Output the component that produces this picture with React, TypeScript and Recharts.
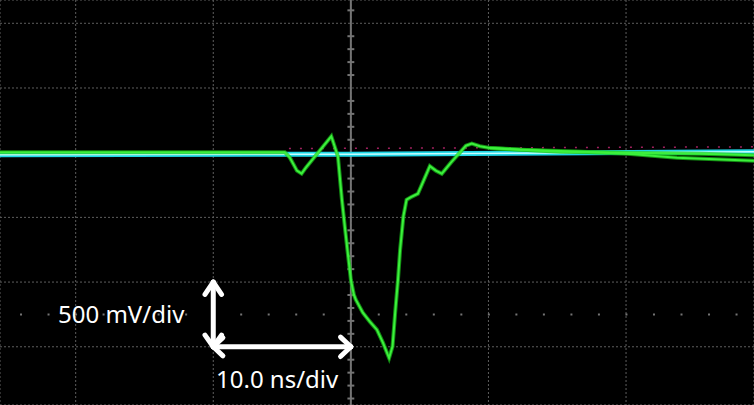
import { CartesianGrid, Line, LineChart, ReferenceLine, XAxis, YAxis } from 'recharts';

const W = 754;
const H = 405;

// scope screen: x in ns (10 ns/div), y in mV (500 mV/div)
const X_DOMAIN = [-25.5, 29.3];
const Y_DOMAIN = [-1950, 1180];
const X_GRID = [-20, -10, 0, 10, 20];
const Y_GRID = [1000, 500, 0, -500, -1000, -1500];
const CENTER_TICKS = [
  1100, 900, 800, 700, 600, 400, 300, 200, 100, -100, -200, -300, -400, -600, -700, -800, -900,
  -1100, -1200, -1300, -1400, -1600, -1700, -1800, -1900,
];

// green trace (main acquisition)
const greenT = [
  -25.5, -4.8, -4.43, -3.92, -3.58, -3.27, -1.42, -0.94, -0.65, -0.44, -0.25, 0, 0.22, 0.36, 0.87,
  1.38, 1.89, 2.33, 2.78, 3.03, 3.22, 3.42, 3.58, 3.82, 4.05, 4.36, 4.87, 5.16, 5.74, 6.18, 6.61,
  7.27, 7.92, 8.36, 8.79, 9.38, 10.1, 12.3, 16.4, 20.1, 23.7, 29.3,
];
const greenV = [
  4, 4, -39, -139, -162, -116, 127, -29, -363, -570, -750, -981, -1097, -1136, -1236, -1306, -1368,
  -1468, -1587, -1497, -1236, -989, -750, -491, -363, -344, -317, -247, -104, -139, -162, -77, 0,
  54, 70, 50, 36, 23, 10, -8, -39, -62,
];

// second green sweep, splits off on the tail
const green2T = [10.1, 15.2, 20.1, 25.4, 29.3];
const green2V = [36, 8, 0, -8, -19];

// cyan reference channel
const cyanT = [-25.5, 0, 29.3];
const cyanV = [-15, -12, 8];

// faint magenta speckle just above the cyan trace
const speckT = [-4.5, 29.3];
const speckV = [32, 45];

const zip = (t: number[], v: number[]) => t.map((x, i) => ({ t: x, v: v[i] }));

const GRID = '#5e5e5e';
const AXIS = '#747474';
const ARROW = '#ffffff';

export default function App() {
  const green = zip(greenT, greenV);
  const green2 = zip(green2T, green2V);
  const cyan = zip(cyanT, cyanV);
  const speck = zip(speckT, speckV);
  const arrow = { stroke: ARROW, strokeWidth: 5, strokeLinecap: 'round' as const, ifOverflow: 'visible' as const };
  const plain = { dot: false, activeDot: false, isAnimationActive: false, type: 'linear' as const };

  return (
    <div style={{ position: 'absolute', left: 0, top: 0, width: W, height: H, background: '#000' }}>
      <LineChart width={W} height={H} margin={{ top: 0, right: 0, bottom: 0, left: 0 }}>
        <XAxis dataKey="t" type="number" domain={X_DOMAIN} ticks={X_GRID} allowDataOverflow hide />
        <YAxis dataKey="v" type="number" domain={Y_DOMAIN} ticks={Y_GRID} allowDataOverflow hide />
        <CartesianGrid stroke={GRID} strokeDasharray="2 2" />
        <ReferenceLine y={-1250} stroke={AXIS} strokeWidth={2} strokeDasharray="2 25.52" strokeDashoffset={7.5} />
        <ReferenceLine x={0} stroke={AXIS} strokeWidth={2} />
        {CENTER_TICKS.map((y) => (
          <ReferenceLine
            key={y}
            segment={[
              { x: -0.25, y },
              { x: 0.25, y },
            ]}
            stroke={AXIS}
            strokeWidth={2}
          />
        ))}

        <Line data={speck} dataKey="v" stroke="#a0205e" strokeWidth={1.5} strokeDasharray="2 9" {...plain} />
        <Line data={cyan} dataKey="v" stroke="#1ed6e6" strokeWidth={5} {...plain} />
        <Line data={cyan} dataKey="v" stroke="#c8ffff" strokeWidth={1.5} {...plain} />
        <Line data={green2} dataKey="v" stroke="#1bc81b" strokeWidth={4} strokeOpacity={0.7} {...plain} />
        <Line data={green} dataKey="v" stroke="#1bc81b" strokeWidth={4} strokeOpacity={0.7} {...plain} />
        <Line data={green2} dataKey="v" stroke="#3cf03c" strokeWidth={2} {...plain} />
        <Line data={green} dataKey="v" stroke="#3cf03c" strokeWidth={2} {...plain} />

        {/* scale arrows: one division each way */}
        <ReferenceLine segment={[{ x: -10, y: -1500 }, { x: -10, y: -1000 }]} {...arrow} />
        <ReferenceLine segment={[{ x: -10.6, y: -1095 }, { x: -10, y: -1000 }]} {...arrow} />
        <ReferenceLine segment={[{ x: -9.4, y: -1095 }, { x: -10, y: -1000 }]} {...arrow} />
        <ReferenceLine segment={[{ x: -10.6, y: -1410 }, { x: -10, y: -1500 }]} {...arrow} />
        <ReferenceLine segment={[{ x: -9.4, y: -1410 }, { x: -10, y: -1500 }]} {...arrow} />
        <ReferenceLine segment={[{ x: -10, y: -1500 }, { x: 0, y: -1500 }]} {...arrow} />
        <ReferenceLine segment={[{ x: -0.75, y: -1425 }, { x: 0, y: -1500 }]} {...arrow} />
        <ReferenceLine segment={[{ x: -0.75, y: -1575 }, { x: 0, y: -1500 }]} {...arrow} />
        <ReferenceLine segment={[{ x: -9.3, y: -1430 }, { x: -10, y: -1500 }]} {...arrow} />
        <ReferenceLine segment={[{ x: -9.3, y: -1570 }, { x: -10, y: -1500 }]} {...arrow} />
      </LineChart>
      <svg width={W} height={H} style={{ position: 'absolute', left: 0, top: 0, pointerEvents: 'none' }}>
        <g fontFamily="'Noto Sans', sans-serif" fontSize={24} fill="#ffffff">
          <text x={58} y={323}>500 mV/div</text>
          <text x={216} y={388}>10.0 ns/div</text>
        </g>
      </svg>
    </div>
  );
}
